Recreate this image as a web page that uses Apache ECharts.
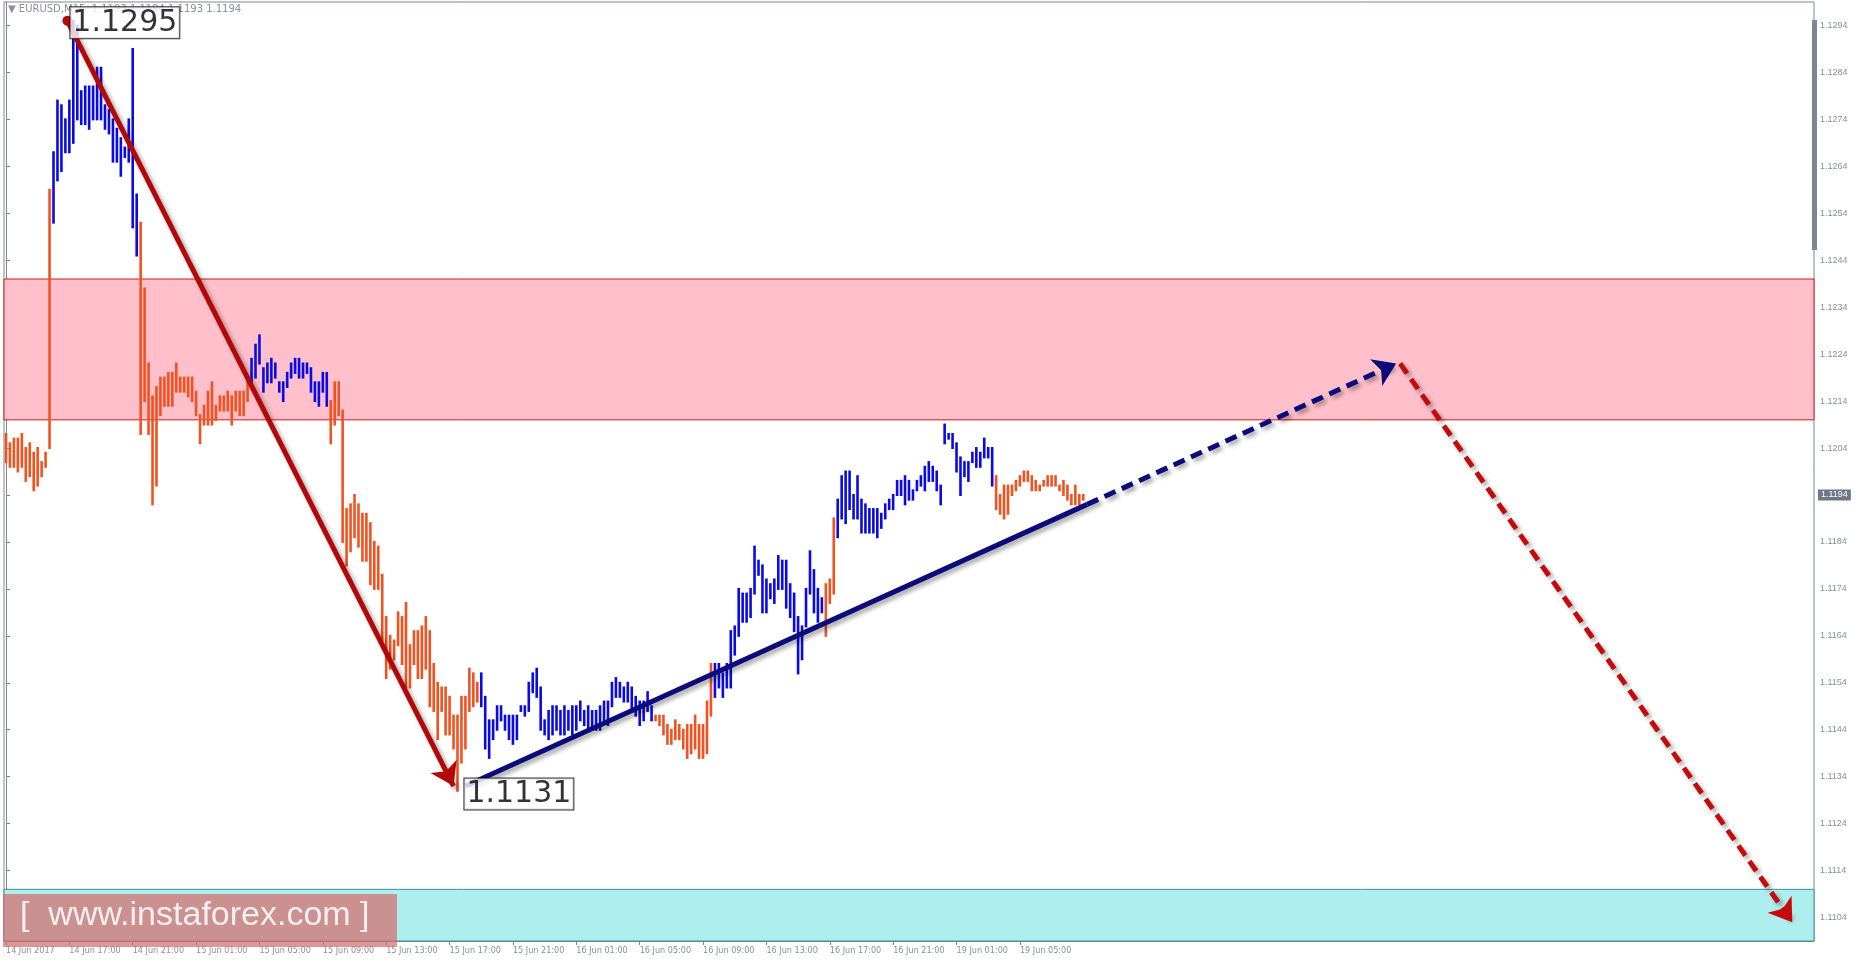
<!DOCTYPE html>
<html><head><meta charset="utf-8">
<script src="https://cdn.jsdelivr.net/npm/echarts@6/dist/echarts.min.js"></script>
<style>html,body{margin:0;padding:0;background:#fff}#c{width:1857px;height:964px}</style>
</head><body><div id="c"></div>
<script>
const highs=[1.1207,1.1205,1.1206,1.1206,1.1207,1.1204,1.1205,1.1203,1.1204,1.1201,1.1203,1.1259,1.1267,1.1278,1.1277,1.1274,1.1278,1.1295,1.1294,1.1280,1.1281,1.1281,1.1281,1.1285,1.1285,1.1277,1.1276,1.1274,1.1272,1.1270,1.1268,1.1274,1.1289,1.1258,1.1252,1.1238,1.1222,
1.1215,1.1217,1.1219,1.1219,1.1220,1.1220,1.1222,1.1219,1.1219,1.1219,1.1219,1.1216,1.1211,1.1213,1.1216,1.1218,1.1213,1.1215,1.1215,1.1216,1.1215,1.1216,1.1216,1.1216,1.1219,
1.1223,1.1226,1.1228,1.1221,1.1222,1.1223,1.1222,1.1218,1.1218,1.1220,1.1222,1.1223,1.1223,1.1222,1.1222,1.1221,1.1218,1.1218,1.1220,1.1220,
1.1214,1.1218,1.1218,1.1212,1.1191,1.1192,1.1194,1.1192,1.1190,1.1190,1.1188,1.1184,1.1183,1.1177,1.1168,1.1164,1.1163,1.1169,1.1168,1.1171,1.1162,1.1165,1.1165,1.1166,1.1168,1.1165,1.1158,1.1154,1.1153,1.1153,1.1151,1.1147,1.1147,1.1151,1.1151,1.1157,1.1156,1.1154,
1.1156,1.1151,1.1146,1.1146,1.1149,1.1149,1.1147,1.1147,1.1147,1.1147,1.1149,1.1149,1.1154,1.1156,1.1157,1.1153,1.1146,1.1148,1.1149,1.1149,1.1148,1.1149,1.1148,1.1149,1.1149,1.1150,1.1148,1.1149,1.1148,1.1148,1.1149,1.1150,1.1150,1.1154,1.1155,1.1154,1.1153,1.1154,1.1153,1.1151,1.1150,1.1150,1.1152,1.1149,
1.1147,1.1147,1.1147,1.1145,1.1144,1.1146,1.1145,1.1144,1.1145,1.1145,1.1147,1.1145,1.1145,1.1150,1.1158,
1.1158,1.1158,1.1156,1.1158,1.1165,1.1166,1.1174,1.1173,1.1173,1.1174,1.1183,1.1180,1.1179,1.1176,1.1175,1.1176,1.1181,1.1180,1.1180,1.1175,1.1173,1.1168,1.1166,1.1174,1.1182,1.1178,1.1174,1.1172,
1.1175,1.1176,1.1189,
1.1193,1.1198,1.1199,1.1199,1.1194,1.1198,1.1193,1.1192,1.1191,1.1191,1.1191,1.1190,1.1192,1.1193,1.1194,1.1197,1.1197,1.1198,1.1197,1.1195,1.1197,1.1198,1.1200,1.1201,1.1200,1.1199,1.1196,1.1209,1.1207,1.1207,1.1205,1.1202,1.1201,1.1201,1.1203,1.1204,1.1203,1.1206,1.1204,1.1204,
1.1198,1.1194,1.1196,1.1196,1.1196,1.1197,1.1198,1.1199,1.1199,1.1198,1.1197,1.1196,1.1197,1.1198,1.1198,1.1198,1.1196,1.1197,1.1196,1.1194,1.1196,1.1194,1.1194];
const lows=[1.1201,1.1200,1.1200,1.1199,1.1200,1.1197,1.1198,1.1195,1.1196,1.1198,1.1200,1.1204,1.1252,1.1261,1.1263,1.1267,1.1267,1.1269,1.1274,1.1273,1.1273,1.1272,1.1274,1.1274,1.1274,1.1272,1.1271,1.1265,1.1265,1.1262,1.1266,1.1265,1.1251,1.1245,1.1207,1.1214,1.1207,
1.1192,1.1196,1.1211,1.1213,1.1213,1.1213,1.1216,1.1216,1.1216,1.1215,1.1214,1.1211,1.1205,1.1209,1.1209,1.1209,1.1210,1.1212,1.1212,1.1212,1.1209,1.1212,1.1211,1.1211,1.1214,
1.1217,1.1219,1.1222,1.1216,1.1218,1.1218,1.1219,1.1216,1.1214,1.1217,1.1219,1.1220,1.1219,1.1219,1.1220,1.1216,1.1214,1.1213,1.1216,1.1213,
1.1205,1.1209,1.1211,1.1184,1.1179,1.1182,1.1185,1.1183,1.1180,1.1180,1.1175,1.1174,1.1174,1.1163,1.1155,1.1157,1.1159,1.1162,1.1158,1.1153,1.1153,1.1158,1.1155,1.1155,1.1157,1.1149,1.1148,1.1142,1.1148,1.1143,1.1143,1.1140,1.1131,1.1137,1.1140,1.1148,1.1149,1.1150,
1.1149,1.1140,1.1138,1.1142,1.1144,1.1146,1.1144,1.1142,1.1141,1.1142,1.1148,1.1147,1.1148,1.1152,1.1151,1.1144,1.1143,1.1142,1.1143,1.1144,1.1143,1.1143,1.1144,1.1143,1.1144,1.1146,1.1145,1.1144,1.1144,1.1144,1.1144,1.1146,1.1145,1.1149,1.1151,1.1151,1.1150,1.1150,1.1148,1.1147,1.1145,1.1146,1.1148,1.1146,
1.1146,1.1145,1.1143,1.1141,1.1141,1.1142,1.1142,1.1140,1.1138,1.1139,1.1140,1.1138,1.1138,1.1139,1.1147,
1.1151,1.1153,1.1151,1.1153,1.1153,1.1160,1.1164,1.1167,1.1167,1.1168,1.1173,1.1177,1.1169,1.1169,1.1172,1.1171,1.1174,1.1174,1.1170,1.1168,1.1165,1.1156,1.1159,1.1166,1.1173,1.1169,1.1167,1.1169,
1.1164,1.1171,1.1173,
1.1185,1.1189,1.1188,1.1191,1.1189,1.1189,1.1186,1.1186,1.1186,1.1186,1.1185,1.1187,1.1189,1.1191,1.1191,1.1194,1.1194,1.1192,1.1193,1.1193,1.1195,1.1196,1.1195,1.1197,1.1197,1.1195,1.1192,1.1205,1.1206,1.1204,1.1199,1.1194,1.1198,1.1197,1.1201,1.1200,1.1200,1.1202,1.1202,1.1196,
1.1191,1.1190,1.1189,1.1190,1.1194,1.1195,1.1196,1.1197,1.1197,1.1195,1.1195,1.1195,1.1196,1.1196,1.1196,1.1196,1.1195,1.1194,1.1193,1.1192,1.1192,1.1192,1.1193];
const colorRuns=[['o',12],['b',22],['o',28],['b',20],['o',38],['b',44],['o',15],['b',28],['o',3],['b',40],['o',23]];
const timeLabels=['14 Jun 2017','14 Jun 17:00','14 Jun 21:00','15 Jun 01:00','15 Jun 05:00','15 Jun 09:00','15 Jun 13:00','15 Jun 17:00','15 Jun 21:00','16 Jun 01:00','16 Jun 05:00','16 Jun 09:00','16 Jun 13:00','16 Jun 17:00','16 Jun 21:00','19 Jun 01:00','19 Jun 05:00'];
const priceTicks=[1.1104,1.1114,1.1124,1.1134,1.1144,1.1154,1.1164,1.1174,1.1184,1.1194,1.1204,1.1214,1.1224,1.1234,1.1244,1.1254,1.1264,1.1274,1.1284,1.1294];
const resistZone=[1.1210,1.1240];
const supportZone=[1.1099,1.1110];
const redWave=[[15.5,1.1295],[113,1.1132]];
const blueWave=[[116,1.1132],[273,1.1192]];
const blueForecast=[[273,1.1192],[351,1.1222]];
const redForecast=[[352,1.1222],[451,1.1103]];
const lastPrice=1.1194;

const cols=[];colorRuns.forEach(([c,n])=>{for(let i=0;i<n;i++)cols.push(c);});
const bars=highs.map((h,i)=>[i,h,lows[i],cols[i]==='b'?0:1]);
const xTicks=timeLabels.map((t,i)=>i*16);
const C={b:'#0a0ae6',o:'#f4511e'};
const shadow={shadowColor:'rgba(0,0,0,0.35)',shadowBlur:4,shadowOffsetX:3,shadowOffsetY:3};
const chart=echarts.init(document.getElementById('c'));
chart.setOption({
 animation:false,
 grid:{left:4,right:43,top:2,bottom:23,show:true,borderColor:'#7b8794',borderWidth:1},
 xAxis:{type:'value',min:-0.5,max:456.5,splitLine:{show:false},axisLine:{show:true,lineStyle:{color:'#7b8794'}},
  axisTick:{customValues:xTicks,length:4,lineStyle:{color:'#7b8794'}},
  axisLabel:{customValues:xTicks,align:'left',margin:5,fontSize:9,color:'#8a8f96',fontFamily:'Liberation Sans Narrow, DejaVu Sans Condensed, sans-serif',
   formatter:v=>timeLabels[Math.round(v/16)]||''}},
 yAxis:{type:'value',position:'right',min:1.1099,max:1.1299,splitLine:{show:false},
  axisLine:{show:true,lineStyle:{color:'#7b8794'}},
  axisTick:{customValues:priceTicks,length:4,lineStyle:{color:'#7b8794'}},
  axisLabel:{customValues:priceTicks,fontSize:9,color:'#8a8f96',margin:6,formatter:v=>v.toFixed(4)}},
 graphic:[
  {type:'text',left:8,top:4,style:{text:'▼ EURUSD,M15  1.1193 1.1194 1.1193 1.1194',fontSize:10,fill:'#8a8f96',fontFamily:'DejaVu Sans'}},
  {type:'rect',shape:{x:1812,y:20,width:5,height:230},style:{fill:'#7b8794'}},
  {type:'rect',z:20,shape:{x:3,y:894,width:394,height:53},style:{fill:'rgba(214,110,110,0.72)'}},
  {type:'text',z:21,left:20,top:899,style:{text:'[  www.instaforex.com ]',fontSize:34,fill:'rgba(255,255,255,0.85)',fontFamily:'Liberation Sans'}}
 ],
 series:[
  {type:'custom',z:3,data:bars,encode:{x:0,y:[1,2]},
   renderItem:(p,api)=>{const i=api.value(0);const a=api.coord([i,api.value(1)]);const b=api.coord([i,api.value(2)]);
    return {type:'line',shape:{x1:a[0],y1:a[1]-1,x2:b[0],y2:b[1]+1},style:{stroke:api.value(3)?C.o:C.b,lineWidth:2.6}};},
   markArea:{silent:true,z:1,data:[
    [{yAxis:resistZone[0],xAxis:-0.5,itemStyle:{color:'#ffc0cb',borderColor:'#d01818',borderWidth:1}},{yAxis:resistZone[1],xAxis:456.5}],
    [{yAxis:supportZone[0],xAxis:-0.5,itemStyle:{color:'#afeeee',borderColor:'#3f8fa3',borderWidth:1}},{yAxis:supportZone[1],xAxis:456.5}]]}},
  {type:'line',z:7,data:[[-0.5,lastPrice],[456.5,lastPrice]],symbol:'none',lineStyle:{opacity:0},
   endLabel:{show:true,distance:4,formatter:()=>lastPrice.toFixed(4),backgroundColor:'#6c7885',color:'#fff',fontSize:9,padding:[1,3]}},
  {type:'lines',coordinateSystem:'cartesian2d',z:5,symbol:['circle','arrow'],symbolSize:[10,22],
   lineStyle:Object.assign({color:'#b40808',width:5,opacity:1},shadow),data:[{coords:redWave}]},
  {type:'lines',coordinateSystem:'cartesian2d',z:5,symbol:['none','none'],
   lineStyle:Object.assign({color:'#0b0b7a',width:5,opacity:1},shadow),data:[{coords:blueWave}]},
  {type:'lines',coordinateSystem:'cartesian2d',z:5,symbol:['none','arrow'],symbolSize:[0,22],
   lineStyle:Object.assign({color:'#0b0b7a',width:5,type:[12,7],opacity:1},shadow),data:[{coords:blueForecast}]},
  {type:'lines',coordinateSystem:'cartesian2d',z:5,symbol:['none','arrow'],symbolSize:[0,22],
   lineStyle:Object.assign({color:'#c40a0a',width:5,type:[12,7],opacity:1},shadow),data:[{coords:redForecast}]},
  {type:'scatter',z:6,symbolSize:0,data:[{value:redWave[0],label:{show:true,position:'right',offset:[-2,2],formatter:'1.1295'}},
     {value:blueWave[0],label:{show:true,position:'right',offset:[-6,8],formatter:'1.1131'}}],
   label:{fontSize:30,color:'#000',backgroundColor:'#fff',borderColor:'#000',borderWidth:1,padding:[1,2,0,2],fontFamily:'DejaVu Sans'}}
 ]
});
</script></body></html>
